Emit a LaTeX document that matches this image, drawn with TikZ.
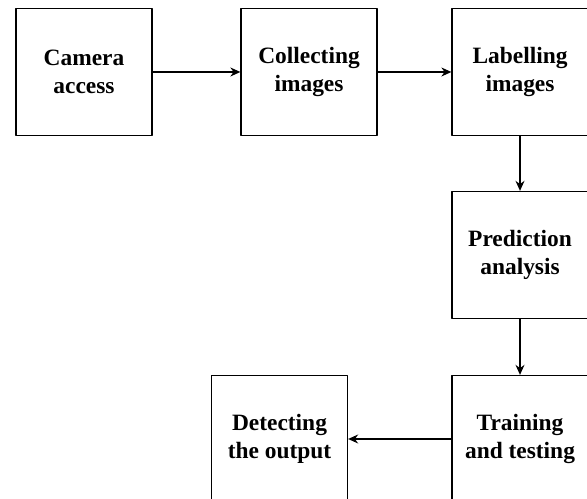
\documentclass[tikz,border=0pt]{standalone}
\usepackage{fontspec}
\setmainfont{Liberation Serif}
\usetikzlibrary{arrows.meta}

\begin{document}
\begin{tikzpicture}[>={Stealth[length=10bp,width=9bp]},line join=bevel,x=1bp,y=1bp,
    stepbox/.style={draw,line width=1.3bp,minimum width=136bp,minimum height=127bp,
        align=center,font=\bfseries\fontsize{23.5}{28}\selectfont},
    flow/.style={->,line width=1.3bp}]
    \useasboundingbox (0,0) rectangle (587,499);
    %% Nodes
    % Node: camera
    \node[stepbox] (camera) at (84,427) {Camera\\access};
    % Node: collect
    \node[stepbox] (collect) at (309,427) {Collecting\\images};
    % Node: label
    \node[stepbox] (label) at (520,427) {Labelling\\images};
    % Node: predict
    \node[stepbox] (predict) at (520,244) {Prediction\\analysis};
    % Node: train
    \node[stepbox] (train) at (520,60) {Training\\and testing};
    % Node: detect
    \node[stepbox] (detect) at (279.5,60) {Detecting\\the output};
    %% Edges
    % Edge: camera -> collect
    \draw[flow] (camera) -- (collect);
    % Edge: collect -> label
    \draw[flow] (collect) -- (label);
    % Edge: label -> predict
    \draw[flow] (label) -- (predict);
    % Edge: predict -> train
    \draw[flow] (predict) -- (train);
    % Edge: train -> detect
    \draw[flow] (train) -- (detect);
\end{tikzpicture}
\end{document}
